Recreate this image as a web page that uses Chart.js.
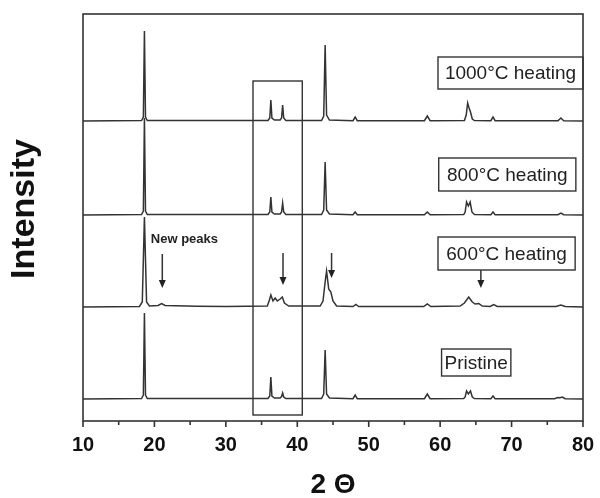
<!DOCTYPE html>
<html>
<head>
<meta charset="utf-8">
<script src="https://cdn.jsdelivr.net/npm/chart.js@4.4.1/dist/chart.umd.min.js"></script>
<style>
  body { margin: 0; background: #fff; }
  #wrap { width: 600px; height: 498px; }
</style>
</head>
<body>
<div id="wrap"><canvas id="xrd" width="600" height="498"></canvas></div>
<script>
// XRD patterns, [2theta, intensity above own baseline]
var pristine = [
  [10,0],[18.2,0.5],[18.45,4],[18.6,86],[18.75,4],[19.0,0.5],
  [35.9,0.5],[36.15,3],[36.3,22],[36.45,3],[36.8,1],
  [37.6,1],[37.8,2.5],[37.95,6],[38.1,2],[38.4,0.5],
  [43.4,0.5],[43.7,5],[43.9,49],[44.1,5],[44.5,1],
  [47.8,0.3],[48.1,4],[48.4,0.3],
  [57.8,0.3],[58.2,5],[58.6,0.3],
  [63.3,0.5],[63.5,2],[63.7,8],[63.95,5],[64.25,8],[64.5,2],[64.8,0.5],
  [67.1,0.3],[67.4,3],[67.7,0.3],
  [76.0,0.3],[76.5,1.5],[76.8,1.2],[77.1,2],[77.5,0.3],[80,0]
];
var heated600 = [
  [10,0],[17.9,0.5],[18.3,5],[18.6,90],[18.9,5],[19.3,1],
  [20.5,1.5],[21.0,3.5],[21.5,1.5],[23,1.2],[26,0.8],[30,0.5],
  [35.8,1],[36.1,7],[36.3,12],[36.6,6],[36.9,9],[37.2,6],[37.6,8],[37.9,10],[38.2,4],[38.8,1],
  [43.2,1],[43.6,6],[43.9,25],[44.1,36],[44.4,18],[44.7,15],[45.0,6],[45.5,1],
  [47.8,0.5],[48.2,2.5],[48.6,0.5],
  [57.7,0.5],[58.2,3],[58.7,0.5],
  [62.8,1],[63.4,4],[64.0,10],[64.5,5],[64.9,3],[65.4,3.5],[65.9,1],
  [67.0,0.5],[67.5,2.5],[68,0.5],
  [76.2,0.5],[76.9,2],[77.5,0.5],[80,0]
];
var heated800 = [
  [10,0],[18.2,0.5],[18.45,4],[18.6,97],[18.75,4],[19.0,0.5],
  [35.9,0.5],[36.15,3],[36.3,18],[36.45,3],[36.8,1],
  [37.6,1],[37.8,3],[37.95,12],[38.1,3],[38.4,0.5],
  [43.4,0.5],[43.7,5],[43.9,53],[44.1,5],[44.5,1],
  [47.8,0.3],[48.1,3],[48.4,0.3],
  [57.8,0.3],[58.2,3],[58.6,0.3],
  [63.3,0.5],[63.5,3],[63.7,13],[63.95,9],[64.2,13],[64.45,3],[64.8,0.5],
  [67.1,0.3],[67.4,3],[67.7,0.3],
  [76.5,0.3],[76.9,2],[77.3,0.3],[80,0]
];
var heated1000 = [
  [10,0],[18.2,0.5],[18.45,4],[18.6,90],[18.75,4],[19.0,0.5],
  [35.9,0.5],[36.15,3],[36.3,21],[36.45,3],[36.8,1],
  [37.6,1],[37.8,3],[37.95,16],[38.1,3],[38.4,0.5],
  [43.4,0.5],[43.7,5],[43.9,76],[44.1,6],[44.5,1],
  [47.8,0.3],[48.1,4],[48.4,0.3],
  [57.8,0.3],[58.2,5],[58.6,0.3],
  [63.4,0.5],[63.65,6],[63.85,18],[64.05,13],[64.25,9],[64.5,2],[64.8,0.5],
  [67.1,0.3],[67.4,4],[67.7,0.3],
  [76.5,0.3],[76.9,3],[77.3,0.3],[80,0]
];

var seriesNames = ["Pristine", "600\u00B0C heating", "800\u00B0C heating", "1000\u00B0C heating"];
var seriesData = [pristine, heated600, heated800, heated1000];
var xTicks = [10, 20, 30, 40, 50, 60, 70, 80];

// vertical stacking of the patterns
var stackOffset = [22, 114, 206, 300];

var lineColor = "#333";
var fontFam = "'Liberation Sans', Arial, sans-serif";

var datasets = [];
for (var i = 0; i < seriesData.length; i++) {
  datasets.push({
    label: seriesNames[i],
    data: seriesData[i].map(function (p) { return { x: p[0], y: p[1] + stackOffset[i] }; }),
    borderColor: lineColor,
    borderWidth: 1.5,
    pointRadius: 0,
    tension: 0,
    fill: false
  });
}

// label boxes: [x0, x1, yTop, yBottom] in data units
var labelBoxes = [
  [60.2, 69.9, 72, 45],
  [59.7, 78.9, 184, 151],
  [59.8, 79.0, 263, 230],
  [59.7, 80.0, 364, 332]
];
// arrows: [2theta, from, to]
var arrows = [[21.1, 167, 133], [38.0, 168, 136], [44.8, 168, 143], [65.7, 151, 133]];

var decor = {
  id: "decor",
  afterDatasetsDraw: function (chart) {
    var ctx = chart.ctx, xs = chart.scales.x, ys = chart.scales.y, a = chart.chartArea;
    ctx.save();
    ctx.strokeStyle = lineColor;
    ctx.fillStyle = "#222";

    // highlight rectangle
    ctx.lineWidth = 1.4;
    ctx.strokeRect(xs.getPixelForValue(33.8), ys.getPixelForValue(340),
      xs.getPixelForValue(40.7) - xs.getPixelForValue(33.8), ys.getPixelForValue(6) - ys.getPixelForValue(340));

    // label boxes
    ctx.font = "19px " + fontFam;
    ctx.textAlign = "center";
    ctx.textBaseline = "middle";
    labelBoxes.forEach(function (b, k) {
      var x0 = xs.getPixelForValue(b[0]), x1 = xs.getPixelForValue(b[1]);
      var y0 = ys.getPixelForValue(b[2]), y1 = ys.getPixelForValue(b[3]);
      ctx.fillStyle = "#fff";
      ctx.fillRect(x0, y0, x1 - x0, y1 - y0);
      ctx.strokeRect(x0, y0, x1 - x0, y1 - y0);
      ctx.fillStyle = "#222";
      ctx.fillText(seriesNames[k], (x0 + x1) / 2, (y0 + y1) / 2 + 1);
    });

    // arrows
    ctx.lineWidth = 1.5;
    arrows.forEach(function (ar) {
      var x = xs.getPixelForValue(ar[0]), y0 = ys.getPixelForValue(ar[1]), y1 = ys.getPixelForValue(ar[2]);
      ctx.beginPath();
      ctx.moveTo(x, y0);
      ctx.lineTo(x, y1 - 7);
      ctx.stroke();
      ctx.beginPath();
      ctx.moveTo(x - 3.5, y1 - 8);
      ctx.lineTo(x + 3.5, y1 - 8);
      ctx.lineTo(x, y1);
      ctx.closePath();
      ctx.fill();
    });

    ctx.font = "bold 13px " + fontFam;
    ctx.fillText("New peaks", xs.getPixelForValue(24.2), ys.getPixelForValue(182));

    // frame
    ctx.lineWidth = 1.6;
    ctx.strokeRect(a.left, a.top, a.right - a.left, a.bottom - a.top);

    // x ticks, major and minor, pointing out
    for (var v = 10; v <= 80; v += 5) {
      var px = xs.getPixelForValue(v);
      ctx.beginPath();
      ctx.moveTo(px, a.bottom);
      ctx.lineTo(px, a.bottom + (v % 10 === 0 ? 6 : 4));
      ctx.stroke();
    }

    // y title
    ctx.translate(25, 209);
    ctx.rotate(-Math.PI / 2);
    ctx.font = "bold 34px " + fontFam;
    ctx.fillStyle = "#111";
    ctx.fillText("Intensity", 0, 0);
    ctx.restore();
  }
};

new Chart("xrd", {
  type: "line",
  data: { datasets: datasets },
  options: {
    responsive: false,
    animation: false,
    layout: { padding: { left: 83, right: 17, top: 14, bottom: 0 } },
    plugins: { legend: { display: false }, tooltip: { enabled: false } },
    scales: {
      x: {
        type: "linear",
        min: 10,
        max: 80,
        afterFit: function (s) { s.height = 77; s.paddingLeft = 0; s.paddingRight = 0; },
        afterBuildTicks: function (s) { s.ticks = xTicks.map(function (v) { return { value: v }; }); },
        grid: { display: false, drawTicks: false },
        border: { display: false },
        ticks: { padding: 12, color: "#111", font: { family: fontFam, size: 20, weight: "bold" } },
        title: {
          display: true,
          text: "2 \u0398",
          color: "#111",
          padding: { top: 0, bottom: 0 },
          font: { family: fontFam, size: 28, weight: "bold", lineHeight: 0.9 }
        }
      },
      y: { display: false, min: 0, max: 407 }
    }
  },
  plugins: [decor]
});
</script>
</body>
</html>
